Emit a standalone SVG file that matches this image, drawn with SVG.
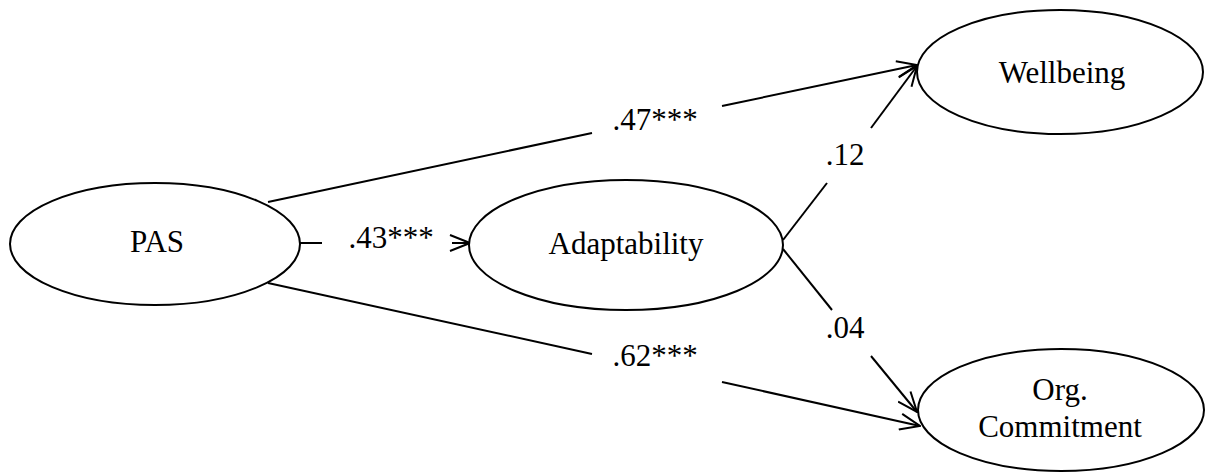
<svg xmlns="http://www.w3.org/2000/svg" width="1208" height="472" viewBox="0 0 1208 472">
<style>
.node{fill:#fff;stroke:#000;stroke-width:2}
.lbl{font-size:31px;fill:#000;text-anchor:middle}
.edge{stroke:#000;stroke-width:2;fill:none}
</style>
<defs>
<marker id="arr" viewBox="0 0 22 18" refX="21" refY="9" markerWidth="22" markerHeight="18" markerUnits="userSpaceOnUse" orient="auto">
<path d="M1,1 L21,9 L1,17" fill="none" stroke="#000" stroke-width="2"/>
</marker>
</defs>
<rect width="1208" height="472" fill="#fff"/>
<g id="connectors">
<line class="edge" x1="268" y1="202" x2="592" y2="133"/>
<line class="edge" x1="722" y1="106" x2="917" y2="65" marker-end="url(#arr)"/>
<line class="edge" x1="300" y1="243" x2="322" y2="243"/>
<line class="edge" x1="452" y1="243" x2="470" y2="243" marker-end="url(#arr)"/>
<line class="edge" x1="268" y1="283" x2="592" y2="354"/>
<line class="edge" x1="722" y1="382" x2="920" y2="426" marker-end="url(#arr)"/>
<line class="edge" x1="783" y1="240" x2="827" y2="183"/>
<line class="edge" x1="871" y1="128" x2="917" y2="66" marker-end="url(#arr)"/>
<line class="edge" x1="783" y1="249" x2="832" y2="310"/>
<line class="edge" x1="871" y1="356" x2="917" y2="412" marker-end="url(#arr)"/>
<text class="lbl" x="655" y="130" font-family="Liberation Serif, serif">.47***</text>
<text class="lbl" x="391" y="248" font-family="Liberation Serif, serif">.43***</text>
<text class="lbl" x="655" y="366" font-family="Liberation Serif, serif">.62***</text>
<text class="lbl" x="845" y="165" font-family="Liberation Serif, serif">.12</text>
<text class="lbl" x="845" y="338" font-family="Liberation Serif, serif">.04</text>
</g>
<g id="PAS">
<ellipse class="node" cx="155" cy="244" rx="145" ry="61"/>
<text class="lbl" x="157" y="252" font-family="Liberation Serif, serif">PAS</text>
</g>
<g id="Adaptability">
<ellipse class="node" cx="626" cy="245" rx="157" ry="65"/>
<text class="lbl" x="626" y="254" font-family="Liberation Serif, serif">Adaptability</text>
</g>
<g id="Wellbeing">
<ellipse class="node" cx="1060" cy="72" rx="143" ry="62"/>
<text class="lbl" x="1062" y="83" font-family="Liberation Serif, serif">Wellbeing</text>
</g>
<g id="OrgCommitment">
<ellipse class="node" cx="1061" cy="410" rx="143" ry="61"/>
<text class="lbl" x="1060" y="400" font-family="Liberation Serif, serif">Org.</text>
<text class="lbl" x="1060" y="437" font-family="Liberation Serif, serif">Commitment</text>
</g>
</svg>
